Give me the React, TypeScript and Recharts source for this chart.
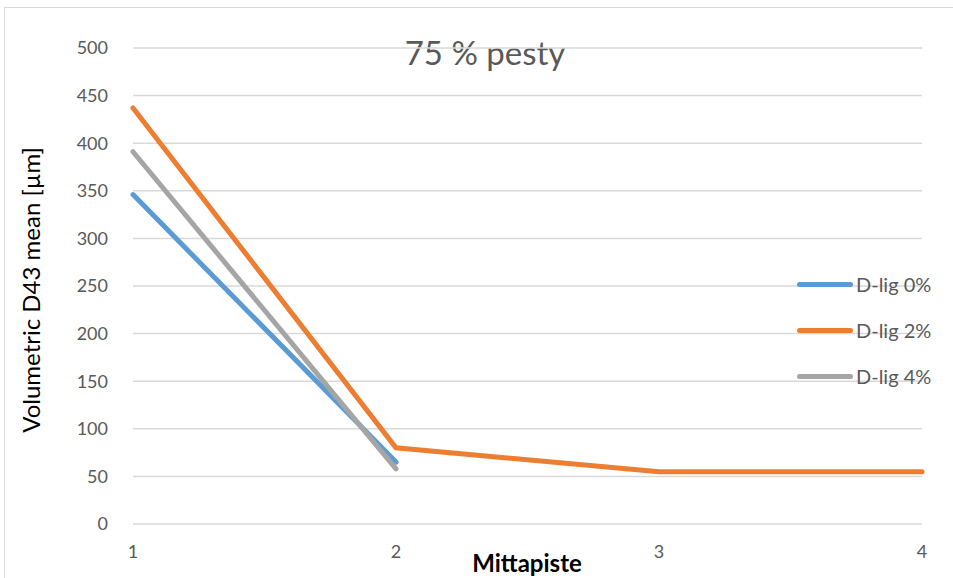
import React from 'react';
import { LineChart, Line, XAxis, YAxis, CartesianGrid } from 'recharts';

const categories = ['1', '2', '3', '4'];
const dlig0: (number | null)[] = [346, 65, null, null];
const dlig2: (number | null)[] = [437, 80, 55, 55];
const dlig4: (number | null)[] = [391, 58, null, null];
const yTicks = [0, 50, 100, 150, 200, 250, 300, 350, 400, 450, 500];
const seriesNames = ['D-lig 0%', 'D-lig 2%', 'D-lig 4%'];
const colors = ['#5B9BD5', '#ED7D31', '#A5A5A5'];

const data = categories.map((c, i) => ({
  x: c,
  s0: dlig0[i],
  s1: dlig2[i],
  s2: dlig4[i],
}));

const FONT = 'Lato, "Open Sans", sans-serif';

export default function App() {
  return (
    <div style={{ position: 'absolute', left: 0, top: 0, width: 953, height: 578, background: '#fff' }}>
      <svg width={953} height={578} style={{ position: 'absolute', left: 0, top: 0 }}>
        <rect x={4.5} y={7.5} width={960} height={600} fill="none" stroke="#d9d9d9" />
        <text x={485} y={52} textAnchor="middle" dominantBaseline="central" fontSize={33} fill="#595959" fontFamily={FONT}>
          75 % pesty
        </text>
        <text
          x={30}
          y={290}
          textAnchor="middle"
          dominantBaseline="central"
          fontSize={24}
          fill="#000"
          fontFamily={FONT}
          transform="rotate(-90 30 290)"
        >
          Volumetric D43 mean [µm]
        </text>
        <text x={527} y={562} textAnchor="middle" dominantBaseline="central" fontSize={24} fontWeight="bold" fill="#000" fontFamily={FONT}>
          Mittapiste
        </text>
      </svg>
      <div style={{ position: 'absolute', left: 0, top: 0 }}>
        <LineChart width={953} height={578} data={data} margin={{ top: 48, right: 31, bottom: 0, left: 0 }}>
          <CartesianGrid horizontal vertical={false} stroke="#d9d9d9" strokeWidth={1.5} />
          <XAxis
            dataKey="x"
            height={54}
            axisLine={false}
            tickLine={false}
            tickSize={0}
            tickMargin={21}
            tick={{ fontSize: 18, fill: '#595959', fontFamily: FONT }}
          />
          <YAxis
            width={133}
            domain={[0, 500]}
            ticks={yTicks}
            axisLine={false}
            tickLine={false}
            tickSize={0}
            tickMargin={25}
            tick={{ fontSize: 18, fill: '#595959', fontFamily: FONT }}
          />
          {['s0', 's1', 's2'].map((k, i) => (
            <Line
              key={k}
              dataKey={k}
              name={seriesNames[i]}
              stroke={colors[i]}
              strokeWidth={5}
              strokeLinecap="round"
              dot={false}
              activeDot={false}
              connectNulls={false}
              isAnimationActive={false}
            />
          ))}
        </LineChart>
      </div>
      <div style={{ position: 'absolute', left: 797, top: 261, fontFamily: FONT }}>
        {seriesNames.map((n, i) => (
          <div key={n} style={{ display: 'flex', alignItems: 'center', height: 46 }}>
            <div style={{ width: 56, height: 5, borderRadius: 3, background: colors[i], marginRight: 3 }} />
            <span style={{ fontSize: 20, color: '#595959' }}>{n}</span>
          </div>
        ))}
      </div>
    </div>
  );
}
